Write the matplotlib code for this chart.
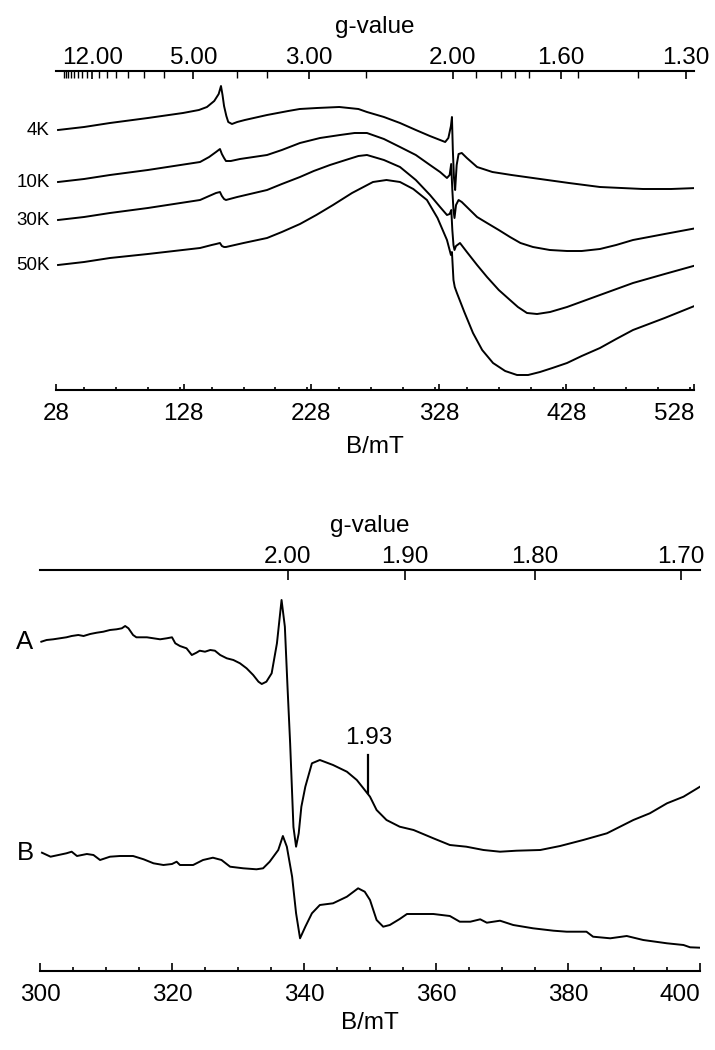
import matplotlib
matplotlib.use('Agg')
import matplotlib.pyplot as plt
from matplotlib.ticker import FormatStrFormatter, MultipleLocator

plt.rcParams['font.family'] = ['Liberation Sans', 'DejaVu Sans']

# ---------------- Panel 1: temperature series ----------------
hnu_top = 678.0   # h*nu/mu_B (mT), converts field to g-value
temps = ['4K', '10K', '30K', '50K']

field_4K = [29.6, 50, 70.3, 100, 127.5, 140, 146.3, 152, 155.5, 157.3, 158.5, 159.7, 161.5, 163, 165.9,
            170, 176, 193.4, 210, 219, 232.5, 250, 265, 271.7, 285, 297.6, 310, 321, 329, 333, 335.5,
            337.5, 338.3, 339.0, 339.9, 340.8, 342, 343.5, 346, 350, 358, 370, 385, 401.8, 430, 454.3,
            488, 510, 530.3]
int_4K = [260, 263, 267, 272, 277, 280, 283, 289, 296, 304, 295, 284, 274, 268, 266,
          268, 270, 275, 279, 281, 282, 283, 281, 278, 273, 267, 260, 254, 250, 248, 252,
          264, 273, 240, 212, 200, 225, 236, 237, 232, 223, 218, 215, 212, 207, 203,
          201, 201, 202]

field_10K = [29.6, 50, 70.3, 100, 140.9, 148, 153.4, 156.5, 158, 159.7, 161.2, 165, 172.2, 193.4, 205,
             219.2, 234.9, 250.6, 262, 271.7, 285, 297.6, 310, 321.1, 329, 334.4, 336.5, 337.7, 338.6,
             339.5, 340.3, 341.5, 343.5, 346, 352.4, 358, 365.8, 375, 383.8, 392, 401.8, 415, 428.5,
             440, 454.3, 467, 480.2, 505, 530.3]
int_10K = [208, 211, 215, 220, 228, 233, 238, 241, 236, 232, 229, 229, 231, 235, 240,
           247, 252, 255, 257, 257, 251, 243, 235, 225, 218, 212, 215, 226, 200,
           180, 172, 185, 190, 188, 180, 173, 167, 160, 153, 147, 143, 140, 139,
           139, 141, 145, 150, 156, 162]

field_30K = [29.6, 50, 70.3, 100, 140.9, 148, 153.4, 156.5, 158, 159.7, 161.2, 170, 193.4, 205, 219.2,
             230, 242.7, 255, 265, 271.7, 285, 297.6, 310, 321.1, 329, 334.4, 336.5, 337.8, 338.6,
             339.5, 340.3, 341.5, 344.6, 350, 358, 365.8, 375, 383.8, 390, 397.1, 405, 415.2, 428.5,
             454.3, 480.2, 505, 530.3]
int_30K = [170, 173, 177, 182, 190, 194, 197, 198, 194, 191, 190, 193, 200, 206, 213,
           219, 225, 230, 234, 235, 230, 223, 210, 195, 183, 175, 176, 180, 160,
           145, 140, 144, 147, 138, 125, 113, 100, 90, 83, 77, 76, 78, 83,
           95, 107, 116, 125]

field_50K = [29.6, 50, 70.3, 100, 140.9, 150, 153.4, 156.5, 158, 159.7, 161.2, 175, 193.4, 205, 219.2,
             232, 245.1, 260, 276.4, 287, 297.6, 308, 318.7, 327, 334.4, 337.5, 338.3, 339.5, 340.5,
             342.2, 348, 354.8, 362, 370.5, 380, 389.3, 398, 407.3, 417, 428.5, 440, 454.3, 467,
             480.2, 505, 530.3]
int_50K = [125, 128, 132, 136, 142, 145, 146, 147, 144, 143, 143, 147, 152, 158, 166,
           175, 185, 197, 208, 210, 208, 201, 190, 172, 150, 135, 138, 110, 103,
           97, 78, 57, 40, 27, 19, 15, 15, 18, 22, 27, 34, 42, 51,
           60, 72, 85]

fields_top = [field_4K, field_10K, field_30K, field_50K]
ints_top = [int_4K, int_10K, int_30K, int_50K]

field_ticks_top = [28, 128, 228, 328, 428, 528]
g_major_top = [12.0, 5.0, 3.0, 2.0, 1.6, 1.3]
g_minor_top = [20, 19, 18, 17, 16, 15, 14, 13, 11, 10, 9, 8, 7, 6, 4, 3.5, 2.5,
               1.9, 1.8, 1.75, 1.7, 1.55, 1.4]

# ---------------- Panel 2: spectra A and B ----------------
hnu_bot = 675.0
labels_bot = ['A', 'B']

field_A = [300.2, 301.0, 302.0, 303.0, 304.0, 304.8, 305.8, 306.6, 307.6, 308.6, 309.6, 310.6, 311.6,
           312.4, 312.9, 313.4, 314.1, 314.6, 316.2, 317.2, 318.2, 319.2, 320.0, 320.5, 321.2, 322.2,
           323.0, 323.7, 324.2, 325.0, 325.8, 326.5, 327.3, 328.3, 329.3, 330.3, 331.3, 332.3, 333.1,
           333.6, 334.3, 335.1, 335.9, 336.6, 337.1, 337.5, 337.9, 338.4, 338.8, 339.2, 339.6, 340.2,
           341.2, 342.4, 344.4, 346.5, 348.0, 349.0, 350.0, 351.0, 352.5, 354.5, 356.6, 359.6, 362.1,
           364.6, 367.2, 369.7, 372.2, 375.8, 378.8, 382.3, 385.9, 389.9, 392.4, 395.0, 397.5, 400.0]
int_A = [329.3, 331.0, 331.7, 332.7, 333.7, 335.0, 336.0, 335.0, 337.0, 338.3, 339.3, 341.0, 341.7,
         342.7, 345.0, 342.7, 336.0, 333.7, 333.7, 332.7, 331.7, 332.7, 333.7, 327.7, 325.0, 322.7,
         316.0, 318.3, 320.3, 319.3, 321.0, 320.3, 316.0, 312.7, 311.0, 307.7, 302.7, 296.0, 289.3,
         287.0, 289.3, 297.7, 327.7, 371.0, 344.3, 284.3, 227.7, 144.0, 124.3, 137.7, 164.3, 184.3,
         207.7, 211.0, 206.0, 199.3, 191.0, 182.7, 174.3, 161.0, 151.0, 144.3, 141.0, 132.7, 126.0,
         124.3, 121.0, 119.3, 120.3, 121.0, 125.0, 131.0, 137.7, 151.0, 157.7, 167.7, 174.3, 184.3]

field_B = [300.3, 301.6, 302.8, 304.0, 304.8, 305.6, 307.1, 308.1, 309.1, 310.6, 312.1, 314.1, 315.7,
           317.2, 318.7, 320.0, 320.7, 321.2, 323.2, 324.7, 326.2, 327.5, 328.8, 330.8, 332.8, 333.8,
           334.8, 336.1, 336.8, 337.4, 338.2, 338.8, 339.4, 340.2, 341.2, 342.4, 344.4, 346.5, 348.2,
           349.2, 350.0, 351.0, 352.0, 353.0, 354.5, 355.6, 359.6, 362.1, 363.6, 365.2, 366.7, 367.7,
           369.7, 371.7, 374.7, 377.8, 379.8, 382.8, 383.8, 386.4, 388.9, 391.4, 395.0, 397.5, 398.5,
           400.0]
int_B = [118.3, 114.3, 116.0, 117.7, 119.3, 115.0, 117.0, 116.0, 111.0, 114.3, 115.0, 115.0, 111.7,
         107.7, 106.0, 107.0, 109.3, 106.0, 106.0, 111.0, 113.3, 111.0, 104.3, 102.7, 101.7, 102.7,
         109.3, 121.0, 135.0, 124.3, 94.3, 57.7, 32.7, 44.3, 57.7, 66.0, 67.7, 74.3, 82.7,
         79.3, 71.0, 51.0, 44.3, 46.0, 52.0, 57.0, 57.0, 55.0, 49.3, 49.3, 51.7, 48.3,
         50.3, 46.0, 42.7, 40.3, 39.3, 39.3, 34.3, 32.7, 35.0, 31.0, 27.7, 26.0, 23.7,
         23.3]

fields_bot = [field_A, field_B]
ints_bot = [int_A, int_B]

field_ticks_bot = [300, 320, 340, 360, 380, 400]
g_major_bot = [2.00, 1.90, 1.80, 1.70]
g_marker = 1.93

FS = 17.5
LW = 1.4

fig = plt.figure(figsize=(7.15, 10.5), dpi=100)
fig.patch.set_facecolor('white')


def style_axes(ax, xlim, ylim):
    ax.set_xlim(*xlim)
    ax.set_ylim(*ylim)
    for s in ['top', 'left', 'right']:
        ax.spines[s].set_visible(False)
    ax.spines['bottom'].set_linewidth(1.5)
    ax.set_yticks([])
    ax.patch.set_alpha(0)


# ---- Panel 1 ----
ax1 = fig.add_axes([56 / 715, 1 - 390 / 1050, 638 / 715, 319 / 1050])
style_axes(ax1, (28, 528), (0, 319))
for name, f, i in zip(temps, fields_top, ints_top):
    ax1.plot(f, i, color='black', lw=LW)
    ax1.annotate(name, xy=(f[0], i[0]), xytext=(-6, 0), textcoords='offset points',
                 ha='right', va='center', fontsize=13.5)
ax1.set_xticks(field_ticks_top)
ax1.xaxis.set_minor_locator(MultipleLocator(25))
ax1.tick_params(axis='x', which='major', direction='in', length=4.5, width=1.2, pad=9.5, labelsize=FS)
ax1.tick_params(axis='x', which='minor', direction='in', length=2.3, width=1.2)
ax1.set_xlabel('B/mT', fontsize=FS, labelpad=8)
ax1.xaxis.get_major_ticks()[-1].label1.set_horizontalalignment('right')

sec1 = ax1.secondary_xaxis('top', functions=(lambda b: hnu_top / b, lambda g: hnu_top / g))
sec1.set_xticks(g_major_top)
sec1.set_xticks(g_minor_top, minor=True)
sec1.xaxis.set_major_formatter(FormatStrFormatter('%.2f'))
sec1.tick_params(which='major', direction='in', length=5.5, width=1.2, pad=1.6, labelsize=FS)
sec1.tick_params(which='minor', direction='in', length=5, width=1.0)
sec1.spines['top'].set_linewidth(1.5)
sec1.set_xlabel('g-value', fontsize=FS, labelpad=10)

# ---- Panel 2 ----
ax2 = fig.add_axes([40 / 715, 1 - 971 / 1050, 660 / 715, 401 / 1050])
style_axes(ax2, (300, 400), (0, 401))
for name, f, i in zip(labels_bot, fields_bot, ints_bot):
    ax2.plot(f, i, color='black', lw=LW)
    ax2.annotate(name, xy=(f[0], i[0]), xytext=(-6, 0), textcoords='offset points',
                 ha='right', va='center', fontsize=18.5)
ax2.set_xticks(field_ticks_bot)
ax2.xaxis.set_minor_locator(MultipleLocator(5))
ax2.tick_params(axis='x', which='major', direction='in', length=5.8, width=1.2, pad=9.5, labelsize=FS)
ax2.tick_params(axis='x', which='minor', direction='in', length=2.9, width=1.2)
ax2.set_xlabel('B/mT', fontsize=FS, labelpad=4)
ax2.xaxis.get_major_ticks()[-1].label1.set_horizontalalignment('right')

b_marker = hnu_bot / g_marker
ax2.plot([b_marker, b_marker], [178, 216], color='black', lw=1.6)
ax2.text(b_marker, 222, f'{g_marker:.2f}', ha='center', va='bottom', fontsize=FS)

sec2 = ax2.secondary_xaxis('top', functions=(lambda b: hnu_bot / b, lambda g: hnu_bot / g))
sec2.set_xticks(g_major_bot)
sec2.xaxis.set_major_formatter(FormatStrFormatter('%.2f'))
sec2.tick_params(which='major', direction='in', length=7, width=1.2, pad=1.5, labelsize=FS)
sec2.tick_params(which='minor', length=0)
sec2.spines['top'].set_linewidth(1.5)
sec2.set_xlabel('g-value', fontsize=FS, labelpad=10)

fig.savefig('out.png', dpi=100, facecolor='white')
